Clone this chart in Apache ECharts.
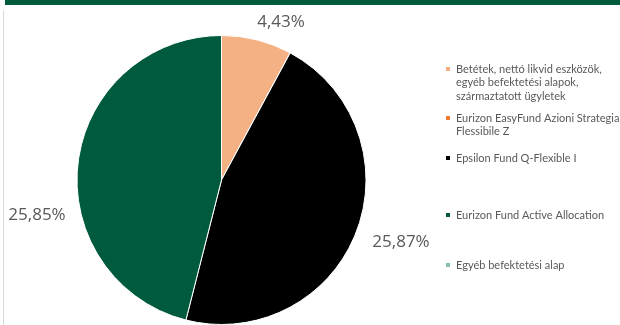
<!DOCTYPE html>
<html>
<head>
<meta charset="utf-8">
<script src="https://cdn.jsdelivr.net/npm/echarts@6/dist/echarts.min.js"></script>
<style>
html,body{margin:0;padding:0;background:#fff;}
#c{width:620px;height:325px;}
</style>
</head>
<body>
<div id="c"></div>
<script>
// Data
const categories = [
  "Betétek, nettó likvid eszközök,\negyéb befektetési alapok,\nszármaztatott ügyletek",
  "Eurizon EasyFund Azioni Strategia\nFlessibile Z",
  "Epsilon Fund Q-Flexible I",
  "Eurizon Fund Active Allocation",
  "Egyéb befektetési alap"
];
const values = [4.43, 0, 25.87, 25.85, 0];
const valueLabels = ["4,43%", "", "25,87%", "25,85%", ""];
const colors = ["#F4B183", "#ED7D31", "#000000", "#005A3E", "#8DBFA6"];

// Layout (label anchors and legend marker rows)
const labelAnchors = [[281, 22], null, [401, 242], [37, 215]];
const legendMarkerY = [69, 118, 158, 215, 265];
const LH = 13.5;

const chart = echarts.init(document.getElementById('c'), null, {renderer: 'canvas'});

const legends = categories.map((name, i) => {
  const lines = name.split('\n').length;
  return {
    data: [name],
    orient: 'vertical',
    left: 444,
    top: legendMarkerY[i] - (2 * lines - 1) * LH / 2,
    icon: 'rect',
    itemWidth: 6,
    itemHeight: 6,
    padding: 0,
    selectedMode: false,
    formatter: n => '\n'.repeat(n.split('\n').length - 1) + n,
    textStyle: {fontFamily: 'Lato', fontSize: 11, color: '#595959', lineHeight: LH}
  };
});

chart.setOption({
  animation: false,
  color: colors,
  graphic: [
    {type: 'rect', shape: {x: 5, y: 0, width: 615, height: 5}, style: {fill: '#005A3E'}},
    {type: 'rect', shape: {x: 3, y: 10, width: 1, height: 315}, style: {fill: '#D9D9D9'}}
  ],
  legend: legends,
  series: [{
    type: 'pie',
    center: [221.5, 180],
    radius: 144.5,
    startAngle: 90,
    clockwise: true,
    avoidLabelOverlap: false,
    itemStyle: {borderColor: '#fff', borderWidth: 1},
    label: {
      show: true,
      position: 'outside',
      formatter: p => valueLabels[p.dataIndex],
      fontFamily: 'Open Sans',
      fontSize: 17,
      color: '#595959'
    },
    labelLine: {show: false},
    labelLayout: p => {
      const a = labelAnchors[p.dataIndex];
      return a ? {x: a[0], y: a[1], align: 'center', verticalAlign: 'middle'} : {};
    },
    data: categories.map((n, i) => ({
      name: n,
      value: values[i],
      label: {show: values[i] > 0}
    }))
  }]
});
</script>
</body>
</html>
